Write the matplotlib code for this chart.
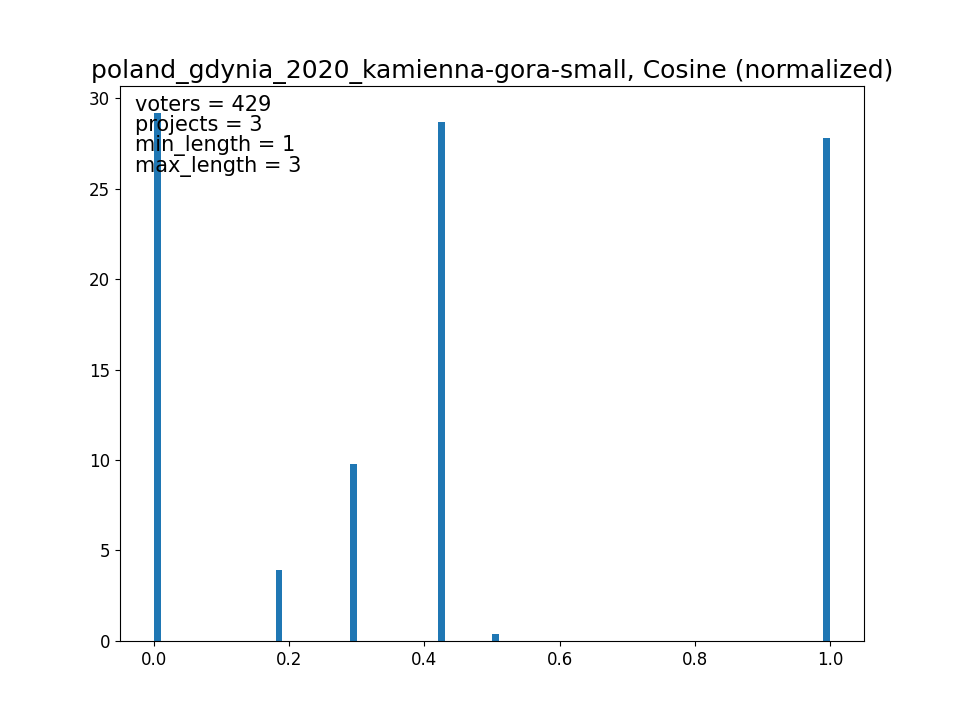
import numpy as np
import matplotlib
matplotlib.use("Agg")
import matplotlib.pyplot as plt

# bin centers (width 0.01) and normalized heights
centers = [0.005, 0.185, 0.295, 0.425, 0.505, 0.995]
heights = [29.2, 3.9, 9.8, 28.7, 0.4, 27.8]
info = ["voters = 429", "projects = 3", "min_length = 1", "max_length = 3"]

fig, ax = plt.subplots(figsize=(9.6, 7.2), dpi=100)
ax.hist(centers, bins=np.linspace(0, 1, 101), weights=heights, color='#1f77b4')
ax.set_title('poland_gdynia_2020_kamienna-gora-small, Cosine (normalized)', fontsize=18)
ax.tick_params(labelsize=12)
ax.text(0.02, 0.985, "\n".join(info), transform=ax.transAxes, va='top', ha='left',
        fontsize=15, linespacing=1.0)
fig.savefig('out.png')
